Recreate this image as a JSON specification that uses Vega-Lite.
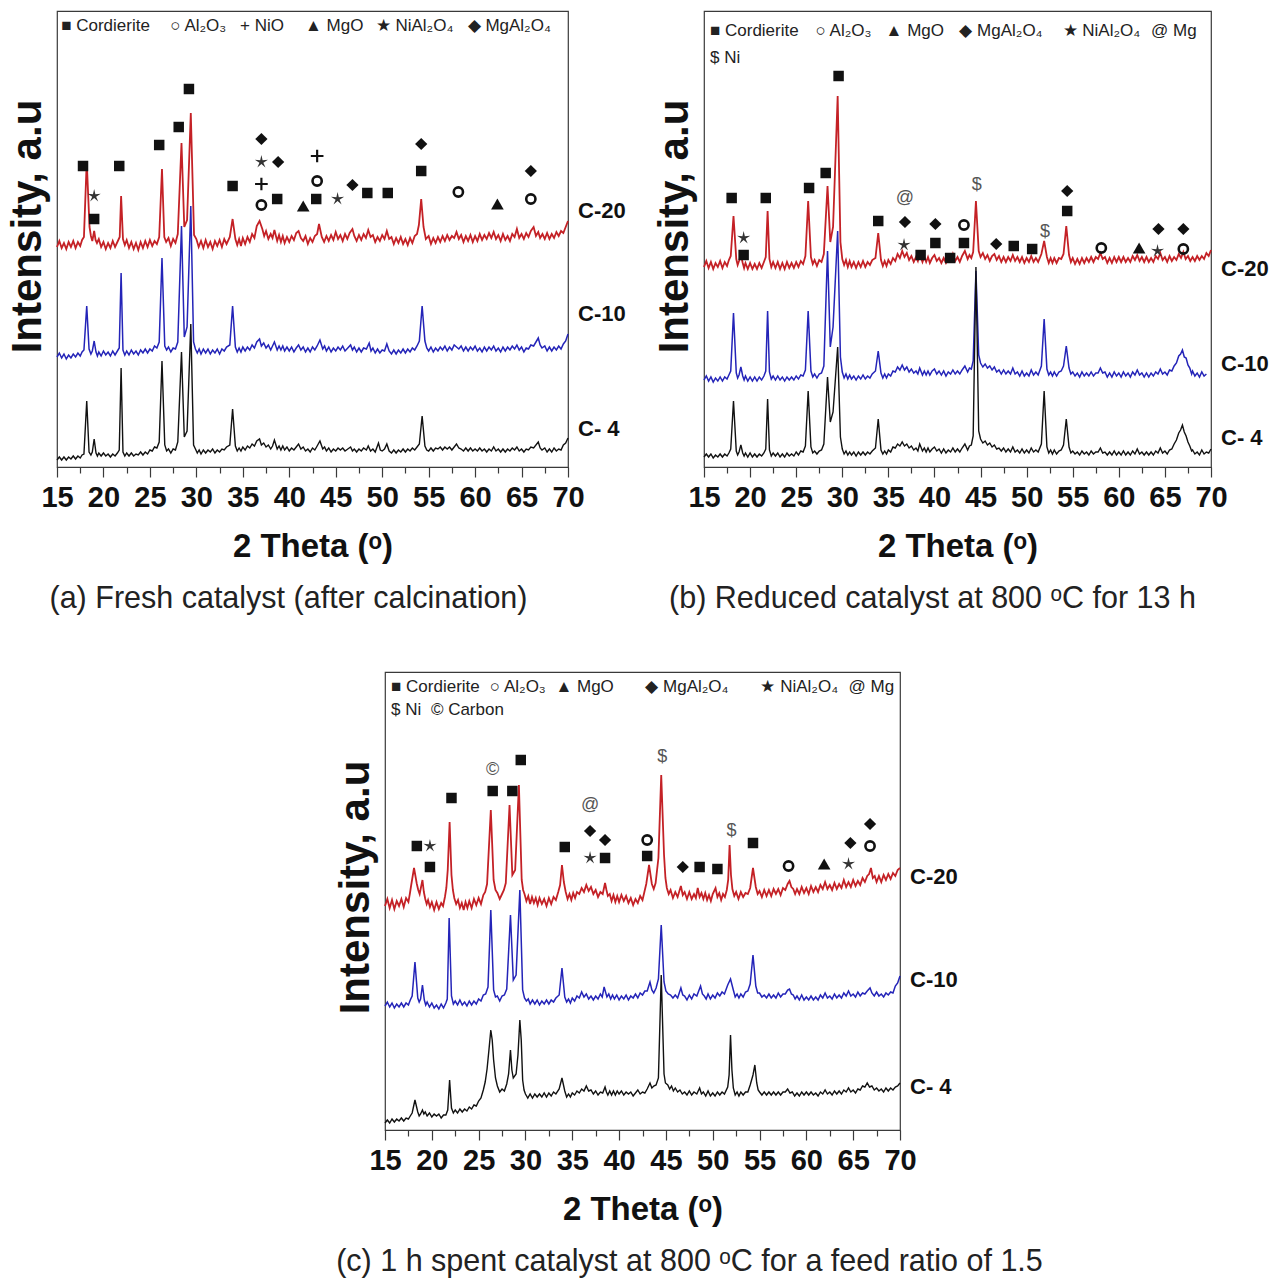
{
"$schema":"https://vega.github.io/schema/vega-lite/v6.json",
"background":"white",
"padding":{"left":5,"top":10,"right":4,"bottom":4},
"config":{
"view":{"stroke":"#3a3a3a","strokeWidth":1.2},
"font":"Liberation Sans",
"text":{"font":"Liberation Sans"},
"title":{"font":"Liberation Sans","fontSize":30.5,"fontWeight":"normal","color":"#222","orient":"bottom","offset":21,"frame":"group"},
"axisX":{"labelFlush":false,"labelOverlap":false,"grid":false,"domainColor":"#3a3a3a","tickColor":"#3a3a3a","tickWidth":1.2,"labelFont":"Liberation Sans","labelFontSize":29,"labelFontWeight":"bold","labelColor":"#111","labelPadding":6,"titleFont":"Liberation Sans","titleFontSize":33,"titleFontWeight":"bold","titleColor":"#111","titlePadding":18},
"axisY":{"ticks":false,"labels":false,"domain":false,"grid":false,"titleFont":"Liberation Sans","titleFontSize":42,"titleFontWeight":"bold","titleColor":"#111","titlePadding":8,"titleY":215}
},
"datasets":{
"a20":[{"x":15,"y":220},{"x":15.25,"y":226},{"x":15.5,"y":219},{"x":15.75,"y":224},{"x":16,"y":218},{"x":16.25,"y":225},{"x":16.5,"y":220},{"x":16.75,"y":226},{"x":17,"y":219},{"x":17.25,"y":225},{"x":17.5,"y":221},{"x":17.7,"y":227},{"x":17.9,"y":230},{"x":18.2,"y":306},{"x":18.5,"y":240},{"x":18.65,"y":231},{"x":18.8,"y":226},{"x":19,"y":236},{"x":19.15,"y":227},{"x":19.3,"y":224},{"x":19.5,"y":228},{"x":19.75,"y":220},{"x":20,"y":225},{"x":20.25,"y":218},{"x":20.5,"y":224},{"x":20.75,"y":219},{"x":21,"y":226},{"x":21.25,"y":220},{"x":21.5,"y":225},{"x":21.75,"y":230},{"x":21.9,"y":271},{"x":22.1,"y":228},{"x":22.3,"y":222},{"x":22.5,"y":227},{"x":22.75,"y":219},{"x":23,"y":225},{"x":23.25,"y":218},{"x":23.5,"y":224},{"x":23.75,"y":217},{"x":24,"y":225},{"x":24.25,"y":219},{"x":24.5,"y":226},{"x":24.75,"y":220},{"x":25,"y":227},{"x":25.25,"y":221},{"x":25.5,"y":226},{"x":25.75,"y":223},{"x":26,"y":230},{"x":26.3,"y":298},{"x":26.55,"y":230},{"x":26.75,"y":225},{"x":27,"y":229},{"x":27.25,"y":221},{"x":27.5,"y":228},{"x":27.75,"y":224},{"x":28,"y":233},{"x":28.4,"y":324},{"x":28.7,"y":240},{"x":29,"y":247},{"x":29.4,"y":354},{"x":29.75,"y":232},{"x":30,"y":228},{"x":30.25,"y":220},{"x":30.5,"y":226},{"x":30.75,"y":219},{"x":31,"y":227},{"x":31.25,"y":220},{"x":31.5,"y":225},{"x":31.75,"y":218},{"x":32,"y":226},{"x":32.25,"y":221},{"x":32.5,"y":227},{"x":32.75,"y":220},{"x":33,"y":228},{"x":33.25,"y":223},{"x":33.6,"y":230},{"x":33.9,"y":248},{"x":34.2,"y":228},{"x":34.4,"y":222},{"x":34.6,"y":228},{"x":34.8,"y":221},{"x":35,"y":229},{"x":35.25,"y":223},{"x":35.5,"y":230},{"x":35.75,"y":225},{"x":36,"y":233},{"x":36.25,"y":229},{"x":36.5,"y":241},{"x":36.8,"y":246},{"x":37.1,"y":238},{"x":37.3,"y":231},{"x":37.5,"y":236},{"x":37.75,"y":228},{"x":38,"y":233},{"x":38.2,"y":229},{"x":38.4,"y":237},{"x":38.7,"y":226},{"x":38.9,"y":232},{"x":39.1,"y":225},{"x":39.3,"y":231},{"x":39.5,"y":224},{"x":39.75,"y":230},{"x":40,"y":225},{"x":40.25,"y":231},{"x":40.5,"y":227},{"x":40.75,"y":234},{"x":41,"y":236},{"x":41.25,"y":229},{"x":41.5,"y":226},{"x":41.75,"y":231},{"x":42,"y":223},{"x":42.25,"y":229},{"x":42.5,"y":225},{"x":42.75,"y":231},{"x":43,"y":233},{"x":43.2,"y":243},{"x":43.5,"y":230},{"x":43.75,"y":225},{"x":44,"y":231},{"x":44.25,"y":226},{"x":44.5,"y":232},{"x":44.75,"y":227},{"x":45,"y":235},{"x":45.25,"y":228},{"x":45.5,"y":232},{"x":45.75,"y":226},{"x":46,"y":233},{"x":46.25,"y":228},{"x":46.5,"y":234},{"x":46.8,"y":238},{"x":47,"y":231},{"x":47.25,"y":226},{"x":47.5,"y":232},{"x":47.75,"y":227},{"x":48,"y":233},{"x":48.25,"y":229},{"x":48.5,"y":237},{"x":48.75,"y":230},{"x":49,"y":232},{"x":49.25,"y":225},{"x":49.5,"y":230},{"x":49.75,"y":226},{"x":50,"y":232},{"x":50.25,"y":228},{"x":50.5,"y":236},{"x":50.75,"y":228},{"x":51,"y":230},{"x":51.25,"y":223},{"x":51.5,"y":229},{"x":51.75,"y":224},{"x":52,"y":230},{"x":52.25,"y":223},{"x":52.5,"y":228},{"x":52.75,"y":222},{"x":53,"y":229},{"x":53.25,"y":224},{"x":53.5,"y":231},{"x":53.75,"y":233},{"x":53.95,"y":242},{"x":54.2,"y":268},{"x":54.45,"y":240},{"x":54.7,"y":228},{"x":55,"y":231},{"x":55.25,"y":223},{"x":55.5,"y":229},{"x":55.75,"y":224},{"x":56,"y":230},{"x":56.25,"y":225},{"x":56.5,"y":231},{"x":56.75,"y":226},{"x":57,"y":232},{"x":57.25,"y":227},{"x":57.5,"y":231},{"x":57.75,"y":229},{"x":58,"y":235},{"x":58.25,"y":228},{"x":58.5,"y":232},{"x":58.75,"y":225},{"x":59,"y":231},{"x":59.25,"y":226},{"x":59.5,"y":232},{"x":59.75,"y":225},{"x":60,"y":231},{"x":60.25,"y":226},{"x":60.5,"y":233},{"x":60.75,"y":227},{"x":61,"y":232},{"x":61.25,"y":228},{"x":61.5,"y":234},{"x":61.75,"y":229},{"x":62,"y":235},{"x":62.25,"y":228},{"x":62.5,"y":232},{"x":62.75,"y":226},{"x":63,"y":233},{"x":63.25,"y":227},{"x":63.5,"y":231},{"x":63.75,"y":226},{"x":64,"y":233},{"x":64.25,"y":230},{"x":64.5,"y":238},{"x":64.75,"y":229},{"x":65,"y":233},{"x":65.25,"y":228},{"x":65.5,"y":234},{"x":65.75,"y":230},{"x":66,"y":236},{"x":66.3,"y":240},{"x":66.55,"y":231},{"x":66.8,"y":235},{"x":67,"y":229},{"x":67.25,"y":233},{"x":67.5,"y":228},{"x":67.75,"y":234},{"x":68,"y":228},{"x":68.25,"y":233},{"x":68.5,"y":229},{"x":68.75,"y":235},{"x":69,"y":231},{"x":69.25,"y":236},{"x":69.5,"y":234},{"x":69.75,"y":240},{"x":70,"y":246}],
"a10":[{"x":15,"y":110},{"x":15.25,"y":114},{"x":15.5,"y":109},{"x":15.75,"y":113},{"x":16,"y":108},{"x":16.25,"y":112},{"x":16.5,"y":109},{"x":16.75,"y":113},{"x":17,"y":110},{"x":17.25,"y":114},{"x":17.5,"y":111},{"x":17.7,"y":115},{"x":17.9,"y":117},{"x":18.2,"y":161},{"x":18.45,"y":118},{"x":18.65,"y":113},{"x":18.8,"y":116},{"x":19,"y":126},{"x":19.2,"y":115},{"x":19.35,"y":111},{"x":19.5,"y":115},{"x":19.75,"y":111},{"x":20,"y":116},{"x":20.25,"y":112},{"x":20.5,"y":115},{"x":20.75,"y":111},{"x":21,"y":116},{"x":21.25,"y":112},{"x":21.5,"y":116},{"x":21.7,"y":119},{"x":21.9,"y":194},{"x":22.1,"y":117},{"x":22.3,"y":112},{"x":22.5,"y":116},{"x":22.75,"y":112},{"x":23,"y":117},{"x":23.25,"y":113},{"x":23.5,"y":116},{"x":23.75,"y":112},{"x":24,"y":117},{"x":24.25,"y":114},{"x":24.5,"y":118},{"x":24.75,"y":114},{"x":25,"y":118},{"x":25.25,"y":116},{"x":25.5,"y":121},{"x":25.75,"y":119},{"x":26,"y":125},{"x":26.3,"y":209},{"x":26.6,"y":121},{"x":26.8,"y":117},{"x":27,"y":120},{"x":27.25,"y":115},{"x":27.5,"y":119},{"x":27.75,"y":118},{"x":28,"y":125},{"x":28.4,"y":241},{"x":28.7,"y":130},{"x":29,"y":140},{"x":29.4,"y":261},{"x":29.7,"y":125},{"x":29.9,"y":118},{"x":30.1,"y":114},{"x":30.3,"y":118},{"x":30.5,"y":113},{"x":30.75,"y":118},{"x":31,"y":114},{"x":31.25,"y":118},{"x":31.5,"y":113},{"x":31.75,"y":117},{"x":32,"y":114},{"x":32.25,"y":118},{"x":32.5,"y":113},{"x":32.75,"y":118},{"x":33,"y":116},{"x":33.25,"y":120},{"x":33.6,"y":122},{"x":33.9,"y":161},{"x":34.2,"y":120},{"x":34.4,"y":115},{"x":34.6,"y":119},{"x":34.8,"y":115},{"x":35,"y":120},{"x":35.25,"y":116},{"x":35.5,"y":120},{"x":35.75,"y":117},{"x":36,"y":122},{"x":36.25,"y":119},{"x":36.5,"y":125},{"x":36.8,"y":128},{"x":37,"y":121},{"x":37.25,"y":124},{"x":37.5,"y":119},{"x":37.75,"y":122},{"x":38,"y":117},{"x":38.2,"y":121},{"x":38.4,"y":125},{"x":38.7,"y":117},{"x":38.9,"y":121},{"x":39.1,"y":117},{"x":39.3,"y":121},{"x":39.5,"y":116},{"x":39.75,"y":120},{"x":40,"y":116},{"x":40.25,"y":120},{"x":40.5,"y":115},{"x":40.75,"y":119},{"x":41,"y":122},{"x":41.25,"y":117},{"x":41.5,"y":120},{"x":41.75,"y":115},{"x":42,"y":119},{"x":42.25,"y":115},{"x":42.5,"y":120},{"x":42.75,"y":117},{"x":43,"y":121},{"x":43.3,"y":127},{"x":43.6,"y":118},{"x":43.8,"y":121},{"x":44,"y":116},{"x":44.25,"y":120},{"x":44.5,"y":115},{"x":44.75,"y":119},{"x":45,"y":116},{"x":45.25,"y":120},{"x":45.5,"y":117},{"x":45.75,"y":121},{"x":46,"y":116},{"x":46.3,"y":119},{"x":46.6,"y":122},{"x":46.8,"y":117},{"x":47,"y":120},{"x":47.25,"y":115},{"x":47.5,"y":119},{"x":47.75,"y":115},{"x":48,"y":119},{"x":48.3,"y":118},{"x":48.6,"y":124},{"x":48.8,"y":116},{"x":49,"y":119},{"x":49.25,"y":114},{"x":49.5,"y":118},{"x":49.75,"y":114},{"x":50,"y":117},{"x":50.25,"y":116},{"x":50.5,"y":123},{"x":50.75,"y":116},{"x":51,"y":113},{"x":51.25,"y":117},{"x":51.5,"y":113},{"x":51.75,"y":117},{"x":52,"y":114},{"x":52.25,"y":118},{"x":52.5,"y":114},{"x":52.75,"y":118},{"x":53,"y":115},{"x":53.25,"y":119},{"x":53.5,"y":117},{"x":53.75,"y":121},{"x":54,"y":126},{"x":54.3,"y":161},{"x":54.6,"y":126},{"x":54.8,"y":119},{"x":55,"y":116},{"x":55.25,"y":120},{"x":55.5,"y":115},{"x":55.75,"y":119},{"x":56,"y":116},{"x":56.25,"y":120},{"x":56.5,"y":117},{"x":56.75,"y":121},{"x":57,"y":116},{"x":57.25,"y":120},{"x":57.5,"y":117},{"x":57.75,"y":122},{"x":58,"y":120},{"x":58.25,"y":118},{"x":58.5,"y":121},{"x":58.75,"y":116},{"x":59,"y":120},{"x":59.25,"y":116},{"x":59.5,"y":120},{"x":59.75,"y":117},{"x":60,"y":121},{"x":60.25,"y":116},{"x":60.5,"y":119},{"x":60.75,"y":115},{"x":61,"y":120},{"x":61.25,"y":116},{"x":61.5,"y":120},{"x":61.75,"y":117},{"x":62,"y":121},{"x":62.25,"y":116},{"x":62.5,"y":119},{"x":62.75,"y":115},{"x":63,"y":120},{"x":63.25,"y":116},{"x":63.5,"y":120},{"x":63.75,"y":117},{"x":64,"y":121},{"x":64.25,"y":118},{"x":64.5,"y":122},{"x":64.75,"y":117},{"x":65,"y":120},{"x":65.25,"y":115},{"x":65.5,"y":119},{"x":65.75,"y":118},{"x":66,"y":122},{"x":66.3,"y":121},{"x":66.8,"y":129},{"x":67,"y":122},{"x":67.2,"y":119},{"x":67.5,"y":121},{"x":67.75,"y":116},{"x":68,"y":120},{"x":68.25,"y":116},{"x":68.5,"y":120},{"x":68.75,"y":117},{"x":69,"y":121},{"x":69.25,"y":118},{"x":69.5,"y":123},{"x":69.75,"y":126},{"x":70,"y":133}],
"a4":[{"x":15,"y":7},{"x":15.25,"y":10},{"x":15.5,"y":7},{"x":15.75,"y":10},{"x":16,"y":7},{"x":16.25,"y":10},{"x":16.5,"y":8},{"x":16.75,"y":11},{"x":17,"y":8},{"x":17.25,"y":11},{"x":17.5,"y":9},{"x":17.7,"y":12},{"x":17.9,"y":13},{"x":18.2,"y":66},{"x":18.45,"y":15},{"x":18.65,"y":12},{"x":18.8,"y":15},{"x":19,"y":28},{"x":19.2,"y":14},{"x":19.35,"y":11},{"x":19.5,"y":14},{"x":19.75,"y":11},{"x":20,"y":14},{"x":20.25,"y":11},{"x":20.5,"y":13},{"x":20.75,"y":10},{"x":21,"y":13},{"x":21.25,"y":11},{"x":21.5,"y":14},{"x":21.7,"y":17},{"x":21.9,"y":99},{"x":22.1,"y":15},{"x":22.3,"y":11},{"x":22.5,"y":14},{"x":22.75,"y":11},{"x":23,"y":14},{"x":23.25,"y":11},{"x":23.5,"y":13},{"x":23.75,"y":12},{"x":24,"y":15},{"x":24.25,"y":12},{"x":24.5,"y":15},{"x":24.75,"y":13},{"x":25,"y":17},{"x":25.25,"y":16},{"x":25.5,"y":20},{"x":25.75,"y":19},{"x":26,"y":25},{"x":26.3,"y":106},{"x":26.6,"y":22},{"x":26.8,"y":16},{"x":27,"y":18},{"x":27.25,"y":14},{"x":27.5,"y":18},{"x":27.75,"y":17},{"x":28,"y":25},{"x":28.4,"y":115},{"x":28.7,"y":30},{"x":29,"y":36},{"x":29.4,"y":143},{"x":29.7,"y":22},{"x":29.9,"y":18},{"x":30.1,"y":14},{"x":30.3,"y":17},{"x":30.5,"y":13},{"x":30.75,"y":17},{"x":31,"y":14},{"x":31.25,"y":17},{"x":31.5,"y":15},{"x":31.75,"y":18},{"x":32,"y":14},{"x":32.25,"y":17},{"x":32.5,"y":15},{"x":32.75,"y":18},{"x":33,"y":17},{"x":33.25,"y":20},{"x":33.6,"y":22},{"x":33.9,"y":58},{"x":34.2,"y":21},{"x":34.4,"y":16},{"x":34.6,"y":19},{"x":34.8,"y":16},{"x":35,"y":20},{"x":35.25,"y":17},{"x":35.5,"y":21},{"x":35.75,"y":19},{"x":36,"y":23},{"x":36.25,"y":21},{"x":36.5,"y":26},{"x":36.8,"y":28},{"x":37,"y":22},{"x":37.25,"y":24},{"x":37.5,"y":20},{"x":37.75,"y":22},{"x":38,"y":18},{"x":38.2,"y":21},{"x":38.4,"y":27},{"x":38.7,"y":18},{"x":38.9,"y":21},{"x":39.1,"y":17},{"x":39.3,"y":21},{"x":39.5,"y":17},{"x":39.75,"y":20},{"x":40,"y":16},{"x":40.25,"y":19},{"x":40.5,"y":17},{"x":40.75,"y":20},{"x":41,"y":23},{"x":41.25,"y":18},{"x":41.5,"y":20},{"x":41.75,"y":16},{"x":42,"y":18},{"x":42.25,"y":15},{"x":42.5,"y":19},{"x":42.75,"y":17},{"x":43,"y":21},{"x":43.3,"y":26},{"x":43.6,"y":18},{"x":43.8,"y":20},{"x":44,"y":16},{"x":44.25,"y":19},{"x":44.5,"y":15},{"x":44.75,"y":18},{"x":45,"y":16},{"x":45.25,"y":19},{"x":45.5,"y":17},{"x":45.75,"y":19},{"x":46,"y":16},{"x":46.3,"y":18},{"x":46.6,"y":20},{"x":46.8,"y":16},{"x":47,"y":18},{"x":47.25,"y":15},{"x":47.5,"y":18},{"x":47.75,"y":16},{"x":48,"y":19},{"x":48.3,"y":17},{"x":48.5,"y":21},{"x":48.75,"y":16},{"x":49,"y":18},{"x":49.25,"y":15},{"x":49.6,"y":24},{"x":49.8,"y":17},{"x":50,"y":16},{"x":50.25,"y":18},{"x":50.5,"y":23},{"x":50.75,"y":16},{"x":51,"y":14},{"x":51.25,"y":17},{"x":51.5,"y":14},{"x":51.75,"y":17},{"x":52,"y":15},{"x":52.25,"y":18},{"x":52.5,"y":15},{"x":52.75,"y":18},{"x":53,"y":16},{"x":53.25,"y":19},{"x":53.5,"y":17},{"x":53.75,"y":20},{"x":54,"y":23},{"x":54.3,"y":51},{"x":54.6,"y":21},{"x":54.8,"y":17},{"x":55,"y":16},{"x":55.25,"y":19},{"x":55.5,"y":16},{"x":55.75,"y":19},{"x":56,"y":18},{"x":56.25,"y":20},{"x":56.5,"y":17},{"x":56.75,"y":20},{"x":57,"y":18},{"x":57.25,"y":20},{"x":57.5,"y":17},{"x":57.75,"y":20},{"x":58,"y":23},{"x":58.25,"y":19},{"x":58.5,"y":18},{"x":58.75,"y":16},{"x":59,"y":19},{"x":59.25,"y":16},{"x":59.5,"y":19},{"x":59.75,"y":16},{"x":60,"y":18},{"x":60.25,"y":16},{"x":60.5,"y":19},{"x":60.75,"y":16},{"x":61,"y":18},{"x":61.25,"y":15},{"x":61.5,"y":18},{"x":61.75,"y":16},{"x":62,"y":20},{"x":62.25,"y":16},{"x":62.5,"y":18},{"x":62.75,"y":15},{"x":63,"y":18},{"x":63.25,"y":15},{"x":63.5,"y":18},{"x":63.75,"y":16},{"x":64,"y":19},{"x":64.25,"y":17},{"x":64.5,"y":20},{"x":64.75,"y":16},{"x":65,"y":18},{"x":65.25,"y":15},{"x":65.5,"y":18},{"x":65.75,"y":17},{"x":66,"y":20},{"x":66.3,"y":19},{"x":66.8,"y":25},{"x":67,"y":19},{"x":67.2,"y":17},{"x":67.5,"y":19},{"x":67.75,"y":15},{"x":68,"y":18},{"x":68.25,"y":15},{"x":68.5,"y":19},{"x":68.75,"y":16},{"x":69,"y":18},{"x":69.25,"y":17},{"x":69.5,"y":22},{"x":69.75,"y":24},{"x":70,"y":29}],
"b20":[{"x":15,"y":200},{"x":15.25,"y":206},{"x":15.5,"y":199},{"x":15.75,"y":205},{"x":16,"y":198},{"x":16.25,"y":204},{"x":16.5,"y":200},{"x":16.75,"y":206},{"x":17,"y":199},{"x":17.25,"y":205},{"x":17.5,"y":201},{"x":17.7,"y":207},{"x":17.9,"y":211},{"x":18.2,"y":251},{"x":18.5,"y":208},{"x":18.65,"y":202},{"x":18.8,"y":206},{"x":19,"y":212},{"x":19.2,"y":204},{"x":19.35,"y":199},{"x":19.5,"y":204},{"x":19.75,"y":198},{"x":20,"y":204},{"x":20.25,"y":198},{"x":20.5,"y":203},{"x":20.75,"y":198},{"x":21,"y":204},{"x":21.25,"y":199},{"x":21.5,"y":205},{"x":21.7,"y":210},{"x":21.9,"y":256},{"x":22.1,"y":208},{"x":22.3,"y":200},{"x":22.5,"y":205},{"x":22.75,"y":199},{"x":23,"y":205},{"x":23.25,"y":198},{"x":23.5,"y":204},{"x":23.75,"y":198},{"x":24,"y":205},{"x":24.25,"y":199},{"x":24.5,"y":204},{"x":24.75,"y":199},{"x":25,"y":205},{"x":25.25,"y":200},{"x":25.5,"y":206},{"x":25.75,"y":203},{"x":26,"y":211},{"x":26.3,"y":266},{"x":26.6,"y":210},{"x":26.8,"y":203},{"x":27,"y":207},{"x":27.25,"y":201},{"x":27.5,"y":207},{"x":27.75,"y":205},{"x":28,"y":213},{"x":28.4,"y":281},{"x":28.7,"y":225},{"x":29,"y":240},{"x":29.5,"y":371},{"x":29.8,"y":225},{"x":30,"y":208},{"x":30.2,"y":202},{"x":30.4,"y":207},{"x":30.6,"y":200},{"x":30.8,"y":206},{"x":31,"y":200},{"x":31.25,"y":205},{"x":31.5,"y":199},{"x":31.75,"y":205},{"x":32,"y":200},{"x":32.25,"y":206},{"x":32.5,"y":200},{"x":32.75,"y":205},{"x":33,"y":202},{"x":33.25,"y":207},{"x":33.6,"y":209},{"x":33.9,"y":234},{"x":34.2,"y":207},{"x":34.4,"y":201},{"x":34.6,"y":206},{"x":34.8,"y":201},{"x":35,"y":207},{"x":35.25,"y":203},{"x":35.5,"y":209},{"x":35.75,"y":206},{"x":36,"y":213},{"x":36.25,"y":209},{"x":36.5,"y":216},{"x":36.75,"y":210},{"x":37,"y":214},{"x":37.25,"y":207},{"x":37.5,"y":211},{"x":37.75,"y":205},{"x":38,"y":210},{"x":38.2,"y":206},{"x":38.4,"y":213},{"x":38.7,"y":205},{"x":38.9,"y":210},{"x":39.1,"y":205},{"x":39.3,"y":210},{"x":39.5,"y":204},{"x":39.75,"y":209},{"x":40,"y":212},{"x":40.25,"y":206},{"x":40.5,"y":209},{"x":40.75,"y":204},{"x":41,"y":209},{"x":41.25,"y":204},{"x":41.5,"y":208},{"x":41.75,"y":206},{"x":42,"y":213},{"x":42.25,"y":206},{"x":42.5,"y":210},{"x":42.75,"y":205},{"x":43,"y":211},{"x":43.3,"y":216},{"x":43.6,"y":208},{"x":43.8,"y":212},{"x":44,"y":209},{"x":44.2,"y":215},{"x":44.5,"y":266},{"x":44.8,"y":216},{"x":45,"y":210},{"x":45.25,"y":214},{"x":45.5,"y":208},{"x":45.75,"y":212},{"x":46,"y":206},{"x":46.25,"y":211},{"x":46.5,"y":213},{"x":46.75,"y":207},{"x":47,"y":211},{"x":47.25,"y":205},{"x":47.5,"y":210},{"x":47.75,"y":205},{"x":48,"y":210},{"x":48.25,"y":206},{"x":48.5,"y":212},{"x":48.75,"y":206},{"x":49,"y":210},{"x":49.25,"y":205},{"x":49.5,"y":210},{"x":49.75,"y":204},{"x":50,"y":209},{"x":50.25,"y":205},{"x":50.5,"y":211},{"x":50.75,"y":205},{"x":51,"y":209},{"x":51.25,"y":205},{"x":51.6,"y":213},{"x":51.9,"y":226},{"x":52.2,"y":210},{"x":52.4,"y":204},{"x":52.6,"y":209},{"x":52.8,"y":204},{"x":53,"y":209},{"x":53.25,"y":204},{"x":53.5,"y":209},{"x":53.75,"y":208},{"x":54,"y":213},{"x":54.3,"y":241},{"x":54.6,"y":212},{"x":54.8,"y":205},{"x":55,"y":209},{"x":55.25,"y":203},{"x":55.5,"y":208},{"x":55.75,"y":203},{"x":56,"y":209},{"x":56.25,"y":204},{"x":56.5,"y":209},{"x":56.75,"y":205},{"x":57,"y":210},{"x":57.25,"y":205},{"x":57.5,"y":210},{"x":57.75,"y":208},{"x":58,"y":214},{"x":58.25,"y":208},{"x":58.5,"y":210},{"x":58.75,"y":204},{"x":59,"y":209},{"x":59.25,"y":204},{"x":59.5,"y":210},{"x":59.75,"y":205},{"x":60,"y":210},{"x":60.25,"y":205},{"x":60.5,"y":210},{"x":60.75,"y":205},{"x":61,"y":209},{"x":61.25,"y":205},{"x":61.5,"y":211},{"x":61.75,"y":207},{"x":62,"y":212},{"x":62.25,"y":206},{"x":62.5,"y":210},{"x":62.75,"y":205},{"x":63,"y":210},{"x":63.25,"y":205},{"x":63.5,"y":209},{"x":63.75,"y":205},{"x":64,"y":211},{"x":64.25,"y":208},{"x":64.5,"y":214},{"x":64.75,"y":207},{"x":65,"y":210},{"x":65.25,"y":205},{"x":65.5,"y":211},{"x":65.75,"y":206},{"x":66,"y":210},{"x":66.25,"y":207},{"x":66.5,"y":213},{"x":66.75,"y":209},{"x":67,"y":215},{"x":67.25,"y":208},{"x":67.5,"y":211},{"x":67.75,"y":206},{"x":68,"y":210},{"x":68.25,"y":206},{"x":68.5,"y":211},{"x":68.75,"y":207},{"x":69,"y":211},{"x":69.25,"y":208},{"x":69.5,"y":214},{"x":69.75,"y":211},{"x":70,"y":217}],
"b10":[{"x":15,"y":87},{"x":15.25,"y":91},{"x":15.5,"y":86},{"x":15.75,"y":90},{"x":16,"y":85},{"x":16.25,"y":89},{"x":16.5,"y":86},{"x":16.75,"y":90},{"x":17,"y":86},{"x":17.25,"y":90},{"x":17.5,"y":88},{"x":17.7,"y":92},{"x":17.9,"y":96},{"x":18.2,"y":154},{"x":18.5,"y":94},{"x":18.65,"y":89},{"x":18.8,"y":92},{"x":19,"y":100},{"x":19.2,"y":91},{"x":19.35,"y":87},{"x":19.5,"y":91},{"x":19.75,"y":86},{"x":20,"y":90},{"x":20.25,"y":86},{"x":20.5,"y":90},{"x":20.75,"y":86},{"x":21,"y":90},{"x":21.25,"y":87},{"x":21.5,"y":91},{"x":21.7,"y":96},{"x":21.9,"y":156},{"x":22.1,"y":95},{"x":22.3,"y":88},{"x":22.5,"y":91},{"x":22.75,"y":87},{"x":23,"y":91},{"x":23.25,"y":87},{"x":23.5,"y":90},{"x":23.75,"y":86},{"x":24,"y":90},{"x":24.25,"y":87},{"x":24.5,"y":90},{"x":24.75,"y":87},{"x":25,"y":91},{"x":25.25,"y":88},{"x":25.5,"y":92},{"x":25.75,"y":91},{"x":26,"y":97},{"x":26.3,"y":156},{"x":26.6,"y":96},{"x":26.8,"y":90},{"x":27,"y":93},{"x":27.25,"y":89},{"x":27.5,"y":93},{"x":27.75,"y":94},{"x":28,"y":101},{"x":28.4,"y":216},{"x":28.7,"y":120},{"x":29,"y":140},{"x":29.5,"y":236},{"x":29.8,"y":110},{"x":30,"y":95},{"x":30.2,"y":89},{"x":30.4,"y":93},{"x":30.6,"y":88},{"x":30.8,"y":92},{"x":31,"y":88},{"x":31.25,"y":91},{"x":31.5,"y":87},{"x":31.75,"y":91},{"x":32,"y":88},{"x":32.25,"y":92},{"x":32.5,"y":88},{"x":32.75,"y":91},{"x":33,"y":89},{"x":33.25,"y":93},{"x":33.6,"y":96},{"x":33.9,"y":116},{"x":34.2,"y":94},{"x":34.4,"y":89},{"x":34.6,"y":93},{"x":34.8,"y":89},{"x":35,"y":93},{"x":35.25,"y":91},{"x":35.5,"y":96},{"x":35.75,"y":95},{"x":36,"y":100},{"x":36.25,"y":97},{"x":36.5,"y":102},{"x":36.75,"y":97},{"x":37,"y":100},{"x":37.25,"y":95},{"x":37.5,"y":98},{"x":37.75,"y":94},{"x":38,"y":96},{"x":38.2,"y":93},{"x":38.4,"y":99},{"x":38.7,"y":92},{"x":38.9,"y":96},{"x":39.1,"y":92},{"x":39.3,"y":96},{"x":39.5,"y":92},{"x":39.75,"y":96},{"x":40,"y":98},{"x":40.25,"y":93},{"x":40.5,"y":96},{"x":40.75,"y":92},{"x":41,"y":96},{"x":41.25,"y":91},{"x":41.5,"y":95},{"x":41.75,"y":93},{"x":42,"y":97},{"x":42.25,"y":93},{"x":42.5,"y":96},{"x":42.75,"y":93},{"x":43,"y":97},{"x":43.3,"y":101},{"x":43.6,"y":95},{"x":43.8,"y":99},{"x":44,"y":98},{"x":44.2,"y":106},{"x":44.5,"y":196},{"x":44.8,"y":112},{"x":45,"y":104},{"x":45.25,"y":100},{"x":45.5,"y":103},{"x":45.75,"y":99},{"x":46,"y":101},{"x":46.25,"y":97},{"x":46.5,"y":100},{"x":46.75,"y":95},{"x":47,"y":97},{"x":47.25,"y":93},{"x":47.5,"y":97},{"x":47.75,"y":93},{"x":48,"y":96},{"x":48.25,"y":93},{"x":48.5,"y":99},{"x":48.75,"y":93},{"x":49,"y":95},{"x":49.25,"y":91},{"x":49.5,"y":96},{"x":49.75,"y":91},{"x":50,"y":94},{"x":50.25,"y":91},{"x":50.5,"y":97},{"x":50.75,"y":92},{"x":51,"y":95},{"x":51.25,"y":92},{"x":51.6,"y":101},{"x":51.9,"y":148},{"x":52.2,"y":98},{"x":52.4,"y":92},{"x":52.6,"y":95},{"x":52.8,"y":91},{"x":53,"y":95},{"x":53.25,"y":91},{"x":53.5,"y":95},{"x":53.75,"y":96},{"x":54,"y":101},{"x":54.3,"y":121},{"x":54.6,"y":99},{"x":54.8,"y":93},{"x":55,"y":95},{"x":55.25,"y":91},{"x":55.5,"y":94},{"x":55.75,"y":90},{"x":56,"y":95},{"x":56.25,"y":91},{"x":56.5,"y":94},{"x":56.75,"y":91},{"x":57,"y":95},{"x":57.25,"y":91},{"x":57.5,"y":94},{"x":57.75,"y":94},{"x":58,"y":99},{"x":58.25,"y":94},{"x":58.5,"y":95},{"x":58.75,"y":90},{"x":59,"y":94},{"x":59.25,"y":90},{"x":59.5,"y":95},{"x":59.75,"y":91},{"x":60,"y":94},{"x":60.25,"y":90},{"x":60.5,"y":95},{"x":60.75,"y":91},{"x":61,"y":94},{"x":61.25,"y":90},{"x":61.5,"y":95},{"x":61.75,"y":92},{"x":62,"y":97},{"x":62.25,"y":92},{"x":62.5,"y":94},{"x":62.75,"y":90},{"x":63,"y":94},{"x":63.25,"y":90},{"x":63.5,"y":94},{"x":63.75,"y":91},{"x":64,"y":95},{"x":64.25,"y":93},{"x":64.5,"y":98},{"x":64.75,"y":93},{"x":65,"y":95},{"x":65.25,"y":92},{"x":65.5,"y":97},{"x":65.75,"y":96},{"x":66,"y":101},{"x":66.25,"y":104},{"x":66.5,"y":111},{"x":66.7,"y":113},{"x":66.9,"y":117},{"x":67.1,"y":110},{"x":67.3,"y":109},{"x":67.5,"y":102},{"x":67.7,"y":99},{"x":67.9,"y":93},{"x":68,"y":96},{"x":68.25,"y":91},{"x":68.5,"y":94},{"x":68.75,"y":90},{"x":69,"y":95},{"x":69.25,"y":91},{"x":69.5,"y":93}],
"b4":[{"x":15,"y":10},{"x":15.25,"y":13},{"x":15.5,"y":10},{"x":15.75,"y":13},{"x":16,"y":9},{"x":16.25,"y":12},{"x":16.5,"y":10},{"x":16.75,"y":13},{"x":17,"y":10},{"x":17.25,"y":13},{"x":17.5,"y":11},{"x":17.7,"y":14},{"x":17.9,"y":18},{"x":18.2,"y":66},{"x":18.5,"y":16},{"x":18.65,"y":12},{"x":18.8,"y":15},{"x":19,"y":22},{"x":19.2,"y":14},{"x":19.35,"y":11},{"x":19.5,"y":14},{"x":19.75,"y":10},{"x":20,"y":14},{"x":20.25,"y":10},{"x":20.5,"y":13},{"x":20.75,"y":10},{"x":21,"y":13},{"x":21.25,"y":11},{"x":21.5,"y":14},{"x":21.7,"y":18},{"x":21.9,"y":68},{"x":22.1,"y":17},{"x":22.3,"y":11},{"x":22.5,"y":14},{"x":22.75,"y":11},{"x":23,"y":14},{"x":23.25,"y":10},{"x":23.5,"y":13},{"x":23.75,"y":10},{"x":24,"y":14},{"x":24.25,"y":11},{"x":24.5,"y":13},{"x":24.75,"y":11},{"x":25,"y":15},{"x":25.25,"y":12},{"x":25.5,"y":16},{"x":25.75,"y":15},{"x":26,"y":21},{"x":26.3,"y":76},{"x":26.6,"y":20},{"x":26.8,"y":14},{"x":27,"y":16},{"x":27.25,"y":13},{"x":27.5,"y":16},{"x":27.75,"y":17},{"x":28,"y":23},{"x":28.4,"y":90},{"x":28.7,"y":45},{"x":29,"y":55},{"x":29.5,"y":120},{"x":29.8,"y":30},{"x":30,"y":18},{"x":30.2,"y":13},{"x":30.4,"y":16},{"x":30.6,"y":12},{"x":30.8,"y":15},{"x":31,"y":12},{"x":31.25,"y":15},{"x":31.5,"y":11},{"x":31.75,"y":15},{"x":32,"y":12},{"x":32.25,"y":15},{"x":32.5,"y":12},{"x":32.75,"y":15},{"x":33,"y":13},{"x":33.25,"y":16},{"x":33.6,"y":19},{"x":33.9,"y":48},{"x":34.2,"y":17},{"x":34.4,"y":13},{"x":34.6,"y":16},{"x":34.8,"y":13},{"x":35,"y":17},{"x":35.25,"y":15},{"x":35.5,"y":20},{"x":35.75,"y":19},{"x":36,"y":23},{"x":36.25,"y":21},{"x":36.5,"y":25},{"x":36.75,"y":21},{"x":37,"y":23},{"x":37.25,"y":19},{"x":37.5,"y":21},{"x":37.75,"y":17},{"x":38,"y":19},{"x":38.2,"y":16},{"x":38.4,"y":23},{"x":38.7,"y":16},{"x":38.9,"y":19},{"x":39.1,"y":15},{"x":39.3,"y":19},{"x":39.5,"y":15},{"x":39.75,"y":18},{"x":40,"y":20},{"x":40.25,"y":16},{"x":40.5,"y":18},{"x":40.75,"y":14},{"x":41,"y":18},{"x":41.25,"y":14},{"x":41.5,"y":17},{"x":41.75,"y":15},{"x":42,"y":19},{"x":42.25,"y":15},{"x":42.5,"y":18},{"x":42.75,"y":15},{"x":43,"y":19},{"x":43.3,"y":23},{"x":43.6,"y":17},{"x":43.8,"y":21},{"x":44,"y":22},{"x":44.2,"y":31},{"x":44.5,"y":200},{"x":44.8,"y":36},{"x":45,"y":28},{"x":45.25,"y":24},{"x":45.5,"y":26},{"x":45.75,"y":22},{"x":46,"y":24},{"x":46.25,"y":20},{"x":46.5,"y":22},{"x":46.75,"y":18},{"x":47,"y":19},{"x":47.25,"y":16},{"x":47.5,"y":19},{"x":47.75,"y":15},{"x":48,"y":18},{"x":48.25,"y":15},{"x":48.5,"y":20},{"x":48.75,"y":15},{"x":49,"y":17},{"x":49.25,"y":14},{"x":49.5,"y":18},{"x":49.75,"y":14},{"x":50,"y":17},{"x":50.25,"y":14},{"x":50.5,"y":19},{"x":50.75,"y":15},{"x":51,"y":17},{"x":51.25,"y":15},{"x":51.6,"y":23},{"x":51.9,"y":76},{"x":52.2,"y":20},{"x":52.4,"y":14},{"x":52.6,"y":17},{"x":52.8,"y":13},{"x":53,"y":17},{"x":53.25,"y":13},{"x":53.5,"y":16},{"x":53.75,"y":17},{"x":54,"y":22},{"x":54.3,"y":48},{"x":54.6,"y":20},{"x":54.8,"y":14},{"x":55,"y":16},{"x":55.25,"y":13},{"x":55.5,"y":15},{"x":55.75,"y":12},{"x":56,"y":16},{"x":56.25,"y":13},{"x":56.5,"y":15},{"x":56.75,"y":12},{"x":57,"y":16},{"x":57.25,"y":13},{"x":57.5,"y":15},{"x":57.75,"y":15},{"x":58,"y":19},{"x":58.25,"y":14},{"x":58.5,"y":15},{"x":58.75,"y":12},{"x":59,"y":15},{"x":59.25,"y":12},{"x":59.5,"y":16},{"x":59.75,"y":12},{"x":60,"y":15},{"x":60.25,"y":12},{"x":60.5,"y":16},{"x":60.75,"y":12},{"x":61,"y":15},{"x":61.25,"y":12},{"x":61.5,"y":16},{"x":61.75,"y":13},{"x":62,"y":18},{"x":62.25,"y":13},{"x":62.5,"y":15},{"x":62.75,"y":12},{"x":63,"y":15},{"x":63.25,"y":12},{"x":63.5,"y":15},{"x":63.75,"y":12},{"x":64,"y":16},{"x":64.25,"y":14},{"x":64.5,"y":19},{"x":64.75,"y":14},{"x":65,"y":16},{"x":65.25,"y":13},{"x":65.5,"y":17},{"x":65.75,"y":18},{"x":66,"y":23},{"x":66.25,"y":27},{"x":66.5,"y":34},{"x":66.7,"y":37},{"x":66.9,"y":42},{"x":67.1,"y":35},{"x":67.3,"y":31},{"x":67.5,"y":25},{"x":67.7,"y":21},{"x":67.9,"y":16},{"x":68,"y":17},{"x":68.25,"y":13},{"x":68.5,"y":15},{"x":68.75,"y":12},{"x":69,"y":17},{"x":69.25,"y":13},{"x":69.5,"y":15},{"x":69.75,"y":14},{"x":70,"y":18}],
"c20":[{"x":15,"y":224},{"x":15.25,"y":231},{"x":15.5,"y":222},{"x":15.75,"y":230},{"x":16,"y":221},{"x":16.25,"y":229},{"x":16.5,"y":224},{"x":16.75,"y":231},{"x":17,"y":223},{"x":17.25,"y":232},{"x":17.5,"y":228},{"x":17.65,"y":236},{"x":17.8,"y":245},{"x":18.1,"y":262},{"x":18.4,"y":246},{"x":18.55,"y":240},{"x":18.7,"y":236},{"x":19,"y":250},{"x":19.15,"y":238},{"x":19.3,"y":231},{"x":19.45,"y":226},{"x":19.6,"y":230},{"x":19.8,"y":223},{"x":20,"y":228},{"x":20.25,"y":220},{"x":20.5,"y":228},{"x":20.75,"y":221},{"x":21,"y":227},{"x":21.2,"y":224},{"x":21.4,"y":233},{"x":21.55,"y":242},{"x":21.7,"y":260},{"x":21.9,"y":308},{"x":22.1,"y":255},{"x":22.25,"y":240},{"x":22.4,"y":232},{"x":22.6,"y":226},{"x":22.8,"y":230},{"x":23,"y":222},{"x":23.2,"y":227},{"x":23.4,"y":220},{"x":23.6,"y":228},{"x":23.8,"y":222},{"x":24,"y":229},{"x":24.25,"y":222},{"x":24.5,"y":231},{"x":24.75,"y":225},{"x":25,"y":232},{"x":25.25,"y":226},{"x":25.5,"y":235},{"x":25.7,"y":238},{"x":25.9,"y":246},{"x":26.3,"y":320},{"x":26.6,"y":250},{"x":26.8,"y":240},{"x":27,"y":237},{"x":27.25,"y":231},{"x":27.5,"y":236},{"x":27.7,"y":240},{"x":27.9,"y":247},{"x":28.3,"y":325},{"x":28.6,"y":255},{"x":28.9,"y":260},{"x":29.3,"y":345},{"x":29.6,"y":250},{"x":29.75,"y":240},{"x":29.9,"y":236},{"x":30.1,"y":229},{"x":30.3,"y":234},{"x":30.5,"y":226},{"x":30.7,"y":233},{"x":30.9,"y":227},{"x":31.1,"y":232},{"x":31.3,"y":225},{"x":31.5,"y":232},{"x":31.75,"y":226},{"x":32,"y":231},{"x":32.25,"y":224},{"x":32.5,"y":232},{"x":32.75,"y":226},{"x":33,"y":233},{"x":33.25,"y":230},{"x":33.5,"y":238},{"x":33.7,"y":245},{"x":33.9,"y":265},{"x":34.1,"y":248},{"x":34.3,"y":238},{"x":34.5,"y":231},{"x":34.7,"y":236},{"x":34.9,"y":230},{"x":35.1,"y":237},{"x":35.3,"y":232},{"x":35.5,"y":238},{"x":35.75,"y":236},{"x":36,"y":242},{"x":36.25,"y":238},{"x":36.5,"y":245},{"x":36.75,"y":239},{"x":37,"y":243},{"x":37.25,"y":236},{"x":37.5,"y":240},{"x":37.75,"y":233},{"x":38,"y":238},{"x":38.25,"y":236},{"x":38.5,"y":247},{"x":38.65,"y":240},{"x":38.8,"y":234},{"x":39,"y":236},{"x":39.2,"y":229},{"x":39.4,"y":235},{"x":39.6,"y":228},{"x":39.8,"y":234},{"x":40,"y":228},{"x":40.25,"y":235},{"x":40.5,"y":229},{"x":40.75,"y":234},{"x":41,"y":227},{"x":41.25,"y":232},{"x":41.5,"y":225},{"x":41.75,"y":231},{"x":42,"y":227},{"x":42.25,"y":234},{"x":42.5,"y":230},{"x":42.7,"y":238},{"x":42.9,"y":246},{"x":43.2,"y":265},{"x":43.5,"y":246},{"x":43.7,"y":241},{"x":43.9,"y":247},{"x":44.2,"y":272},{"x":44.5,"y":355},{"x":44.8,"y":275},{"x":44.95,"y":252},{"x":45.1,"y":242},{"x":45.3,"y":236},{"x":45.5,"y":240},{"x":45.75,"y":232},{"x":46,"y":238},{"x":46.25,"y":233},{"x":46.6,"y":244},{"x":46.8,"y":235},{"x":47,"y":238},{"x":47.25,"y":231},{"x":47.5,"y":238},{"x":47.75,"y":231},{"x":48,"y":236},{"x":48.2,"y":232},{"x":48.4,"y":242},{"x":48.6,"y":233},{"x":48.8,"y":237},{"x":49,"y":231},{"x":49.2,"y":237},{"x":49.4,"y":230},{"x":49.6,"y":235},{"x":49.8,"y":229},{"x":50,"y":236},{"x":50.3,"y":242},{"x":50.5,"y":233},{"x":50.7,"y":237},{"x":50.9,"y":230},{"x":51.1,"y":236},{"x":51.3,"y":233},{"x":51.5,"y":240},{"x":51.65,"y":250},{"x":51.8,"y":285},{"x":51.95,"y":255},{"x":52.1,"y":241},{"x":52.3,"y":234},{"x":52.5,"y":238},{"x":52.75,"y":231},{"x":53,"y":238},{"x":53.25,"y":233},{"x":53.5,"y":237},{"x":53.75,"y":236},{"x":54,"y":242},{"x":54.3,"y":262},{"x":54.6,"y":243},{"x":54.8,"y":236},{"x":55,"y":239},{"x":55.25,"y":233},{"x":55.5,"y":240},{"x":55.75,"y":234},{"x":56,"y":240},{"x":56.25,"y":234},{"x":56.5,"y":241},{"x":56.75,"y":236},{"x":57,"y":241},{"x":57.25,"y":235},{"x":57.5,"y":242},{"x":57.75,"y":240},{"x":58,"y":246},{"x":58.2,"y":249},{"x":58.4,"y":243},{"x":58.6,"y":241},{"x":58.8,"y":236},{"x":59,"y":241},{"x":59.25,"y":236},{"x":59.5,"y":243},{"x":59.75,"y":237},{"x":60,"y":242},{"x":60.25,"y":236},{"x":60.5,"y":244},{"x":60.75,"y":238},{"x":61,"y":243},{"x":61.25,"y":238},{"x":61.5,"y":245},{"x":61.75,"y":241},{"x":62,"y":248},{"x":62.25,"y":241},{"x":62.5,"y":245},{"x":62.75,"y":240},{"x":63,"y":247},{"x":63.25,"y":241},{"x":63.5,"y":246},{"x":63.75,"y":242},{"x":64,"y":250},{"x":64.25,"y":243},{"x":64.5,"y":248},{"x":64.75,"y":243},{"x":65,"y":250},{"x":65.25,"y":244},{"x":65.5,"y":249},{"x":65.75,"y":245},{"x":66,"y":252},{"x":66.25,"y":248},{"x":66.5,"y":254},{"x":66.7,"y":256},{"x":66.9,"y":262},{"x":67.1,"y":252},{"x":67.3,"y":254},{"x":67.5,"y":248},{"x":67.75,"y":254},{"x":68,"y":248},{"x":68.25,"y":255},{"x":68.5,"y":250},{"x":68.75,"y":256},{"x":69,"y":251},{"x":69.25,"y":257},{"x":69.5,"y":254},{"x":69.75,"y":260},{"x":70,"y":262}],
"c10":[{"x":15,"y":124},{"x":15.25,"y":128},{"x":15.5,"y":123},{"x":15.75,"y":127},{"x":16,"y":122},{"x":16.25,"y":126},{"x":16.5,"y":123},{"x":16.75,"y":127},{"x":17,"y":123},{"x":17.25,"y":127},{"x":17.5,"y":125},{"x":17.7,"y":130},{"x":17.9,"y":134},{"x":18.2,"y":168},{"x":18.5,"y":132},{"x":18.65,"y":128},{"x":18.8,"y":131},{"x":19,"y":145},{"x":19.2,"y":130},{"x":19.35,"y":125},{"x":19.5,"y":128},{"x":19.75,"y":123},{"x":20,"y":127},{"x":20.25,"y":122},{"x":20.5,"y":125},{"x":20.75,"y":121},{"x":21,"y":126},{"x":21.25,"y":122},{"x":21.5,"y":127},{"x":21.65,"y":131},{"x":21.85,"y":212},{"x":22.1,"y":134},{"x":22.3,"y":126},{"x":22.5,"y":129},{"x":22.75,"y":125},{"x":23,"y":130},{"x":23.25,"y":125},{"x":23.5,"y":128},{"x":23.75,"y":124},{"x":24,"y":129},{"x":24.25,"y":125},{"x":24.5,"y":129},{"x":24.75,"y":126},{"x":25,"y":131},{"x":25.25,"y":129},{"x":25.5,"y":135},{"x":25.75,"y":136},{"x":26,"y":143},{"x":26.3,"y":220},{"x":26.6,"y":140},{"x":26.8,"y":133},{"x":27,"y":134},{"x":27.25,"y":129},{"x":27.5,"y":134},{"x":27.75,"y":135},{"x":28,"y":141},{"x":28.4,"y":215},{"x":28.7,"y":150},{"x":29,"y":155},{"x":29.4,"y":240},{"x":29.7,"y":140},{"x":29.9,"y":132},{"x":30.1,"y":129},{"x":30.3,"y":131},{"x":30.5,"y":126},{"x":30.75,"y":130},{"x":31,"y":126},{"x":31.25,"y":130},{"x":31.5,"y":125},{"x":31.75,"y":129},{"x":32,"y":126},{"x":32.25,"y":130},{"x":32.5,"y":126},{"x":32.75,"y":130},{"x":33,"y":128},{"x":33.25,"y":132},{"x":33.6,"y":135},{"x":33.9,"y":162},{"x":34.2,"y":133},{"x":34.4,"y":128},{"x":34.6,"y":131},{"x":34.8,"y":127},{"x":35,"y":132},{"x":35.25,"y":129},{"x":35.5,"y":134},{"x":35.75,"y":132},{"x":36,"y":138},{"x":36.25,"y":133},{"x":36.5,"y":136},{"x":36.75,"y":131},{"x":37,"y":134},{"x":37.25,"y":130},{"x":37.5,"y":134},{"x":37.75,"y":131},{"x":38,"y":136},{"x":38.2,"y":133},{"x":38.4,"y":143},{"x":38.7,"y":133},{"x":38.9,"y":136},{"x":39.1,"y":131},{"x":39.3,"y":135},{"x":39.5,"y":131},{"x":39.75,"y":135},{"x":40,"y":130},{"x":40.25,"y":134},{"x":40.5,"y":131},{"x":40.75,"y":135},{"x":41,"y":130},{"x":41.25,"y":134},{"x":41.5,"y":132},{"x":41.75,"y":136},{"x":42,"y":132},{"x":42.25,"y":137},{"x":42.5,"y":135},{"x":42.75,"y":139},{"x":43,"y":139},{"x":43.3,"y":148},{"x":43.5,"y":140},{"x":43.7,"y":137},{"x":43.95,"y":142},{"x":44.2,"y":151},{"x":44.5,"y":205},{"x":44.8,"y":148},{"x":45,"y":139},{"x":45.25,"y":136},{"x":45.5,"y":135},{"x":45.75,"y":132},{"x":46,"y":135},{"x":46.25,"y":132},{"x":46.6,"y":142},{"x":46.8,"y":135},{"x":47,"y":134},{"x":47.25,"y":130},{"x":47.5,"y":135},{"x":47.75,"y":131},{"x":48,"y":136},{"x":48.3,"y":134},{"x":48.7,"y":144},{"x":48.9,"y":136},{"x":49.1,"y":134},{"x":49.3,"y":131},{"x":49.5,"y":136},{"x":49.75,"y":131},{"x":50,"y":135},{"x":50.25,"y":132},{"x":50.5,"y":137},{"x":50.75,"y":134},{"x":51,"y":138},{"x":51.25,"y":136},{"x":51.6,"y":145},{"x":51.9,"y":151},{"x":52.2,"y":140},{"x":52.4,"y":133},{"x":52.6,"y":136},{"x":52.8,"y":132},{"x":53,"y":136},{"x":53.25,"y":133},{"x":53.5,"y":138},{"x":53.75,"y":139},{"x":54,"y":146},{"x":54.3,"y":175},{"x":54.6,"y":144},{"x":54.8,"y":137},{"x":55,"y":137},{"x":55.25,"y":133},{"x":55.5,"y":135},{"x":55.75,"y":132},{"x":56,"y":136},{"x":56.25,"y":132},{"x":56.5,"y":135},{"x":56.75,"y":132},{"x":57,"y":137},{"x":57.25,"y":133},{"x":57.5,"y":136},{"x":57.75,"y":136},{"x":58,"y":140},{"x":58.2,"y":141},{"x":58.4,"y":136},{"x":58.6,"y":135},{"x":58.8,"y":131},{"x":59,"y":134},{"x":59.25,"y":130},{"x":59.5,"y":135},{"x":59.75,"y":130},{"x":60,"y":133},{"x":60.25,"y":130},{"x":60.5,"y":134},{"x":60.75,"y":130},{"x":61,"y":133},{"x":61.25,"y":130},{"x":61.5,"y":135},{"x":61.75,"y":132},{"x":62,"y":137},{"x":62.25,"y":132},{"x":62.5,"y":134},{"x":62.75,"y":131},{"x":63,"y":136},{"x":63.25,"y":132},{"x":63.5,"y":135},{"x":63.75,"y":132},{"x":64,"y":137},{"x":64.25,"y":134},{"x":64.5,"y":139},{"x":64.75,"y":134},{"x":65,"y":136},{"x":65.25,"y":133},{"x":65.5,"y":138},{"x":65.75,"y":134},{"x":66,"y":137},{"x":66.25,"y":136},{"x":66.5,"y":139},{"x":66.8,"y":142},{"x":67,"y":137},{"x":67.25,"y":134},{"x":67.5,"y":138},{"x":67.75,"y":134},{"x":68,"y":136},{"x":68.25,"y":133},{"x":68.5,"y":137},{"x":68.75,"y":135},{"x":69,"y":138},{"x":69.25,"y":137},{"x":69.5,"y":144},{"x":69.75,"y":147},{"x":70,"y":154}],
"c4":[{"x":15,"y":7},{"x":15.25,"y":10},{"x":15.5,"y":7},{"x":15.75,"y":11},{"x":16,"y":8},{"x":16.25,"y":11},{"x":16.5,"y":9},{"x":16.75,"y":12},{"x":17,"y":9},{"x":17.25,"y":12},{"x":17.5,"y":11},{"x":17.7,"y":14},{"x":17.9,"y":17},{"x":18.2,"y":30},{"x":18.5,"y":18},{"x":18.65,"y":14},{"x":18.8,"y":16},{"x":19,"y":20},{"x":19.15,"y":16},{"x":19.3,"y":18},{"x":19.5,"y":14},{"x":19.75,"y":17},{"x":20,"y":13},{"x":20.25,"y":16},{"x":20.5,"y":14},{"x":20.75,"y":16},{"x":21,"y":12},{"x":21.25,"y":15},{"x":21.5,"y":15},{"x":21.7,"y":20},{"x":21.9,"y":50},{"x":22.1,"y":22},{"x":22.3,"y":17},{"x":22.5,"y":20},{"x":22.75,"y":17},{"x":23,"y":21},{"x":23.25,"y":18},{"x":23.5,"y":21},{"x":23.75,"y":19},{"x":24,"y":23},{"x":24.25,"y":21},{"x":24.5,"y":25},{"x":24.75,"y":24},{"x":25,"y":29},{"x":25.25,"y":32},{"x":25.5,"y":40},{"x":25.7,"y":48},{"x":25.9,"y":61},{"x":26.1,"y":80},{"x":26.3,"y":100},{"x":26.45,"y":90},{"x":26.6,"y":70},{"x":26.8,"y":52},{"x":27,"y":44},{"x":27.25,"y":38},{"x":27.5,"y":41},{"x":27.75,"y":39},{"x":28,"y":46},{"x":28.2,"y":56},{"x":28.4,"y":80},{"x":28.55,"y":60},{"x":28.7,"y":52},{"x":29,"y":56},{"x":29.2,"y":75},{"x":29.4,"y":110},{"x":29.55,"y":90},{"x":29.7,"y":50},{"x":29.85,"y":40},{"x":30,"y":36},{"x":30.25,"y":32},{"x":30.5,"y":36},{"x":30.75,"y":32},{"x":31,"y":36},{"x":31.25,"y":33},{"x":31.5,"y":36},{"x":31.75,"y":33},{"x":32,"y":37},{"x":32.25,"y":33},{"x":32.5,"y":37},{"x":32.75,"y":34},{"x":33,"y":38},{"x":33.25,"y":36},{"x":33.6,"y":41},{"x":33.9,"y":52},{"x":34.2,"y":39},{"x":34.4,"y":33},{"x":34.6,"y":36},{"x":34.8,"y":33},{"x":35,"y":37},{"x":35.25,"y":35},{"x":35.5,"y":39},{"x":35.75,"y":37},{"x":36,"y":41},{"x":36.25,"y":39},{"x":36.5,"y":44},{"x":36.75,"y":39},{"x":37,"y":40},{"x":37.25,"y":36},{"x":37.5,"y":39},{"x":37.75,"y":35},{"x":38,"y":38},{"x":38.25,"y":37},{"x":38.5,"y":43},{"x":38.65,"y":38},{"x":38.8,"y":35},{"x":39,"y":39},{"x":39.2,"y":35},{"x":39.4,"y":39},{"x":39.6,"y":35},{"x":39.8,"y":39},{"x":40,"y":36},{"x":40.25,"y":39},{"x":40.5,"y":35},{"x":40.75,"y":38},{"x":41,"y":36},{"x":41.25,"y":38},{"x":41.5,"y":34},{"x":41.75,"y":37},{"x":42,"y":40},{"x":42.25,"y":36},{"x":42.5,"y":38},{"x":42.75,"y":37},{"x":43,"y":41},{"x":43.3,"y":47},{"x":43.5,"y":42},{"x":43.7,"y":44},{"x":43.95,"y":45},{"x":44.2,"y":52},{"x":44.5,"y":155},{"x":44.8,"y":56},{"x":44.95,"y":47},{"x":45.2,"y":45},{"x":45.4,"y":41},{"x":45.6,"y":44},{"x":45.8,"y":39},{"x":46,"y":42},{"x":46.25,"y":38},{"x":46.5,"y":40},{"x":46.75,"y":36},{"x":47,"y":38},{"x":47.25,"y":35},{"x":47.5,"y":39},{"x":47.75,"y":35},{"x":48,"y":38},{"x":48.3,"y":36},{"x":48.6,"y":42},{"x":48.8,"y":36},{"x":49,"y":38},{"x":49.25,"y":34},{"x":49.5,"y":39},{"x":49.75,"y":34},{"x":50,"y":37},{"x":50.25,"y":34},{"x":50.5,"y":38},{"x":50.75,"y":35},{"x":51,"y":38},{"x":51.25,"y":36},{"x":51.6,"y":43},{"x":51.75,"y":55},{"x":51.9,"y":95},{"x":52.05,"y":60},{"x":52.2,"y":42},{"x":52.4,"y":35},{"x":52.6,"y":38},{"x":52.8,"y":34},{"x":53,"y":38},{"x":53.25,"y":35},{"x":53.5,"y":38},{"x":53.75,"y":38},{"x":54,"y":45},{"x":54.3,"y":55},{"x":54.5,"y":65},{"x":54.7,"y":47},{"x":54.85,"y":40},{"x":55,"y":38},{"x":55.25,"y":35},{"x":55.5,"y":38},{"x":55.75,"y":35},{"x":56,"y":38},{"x":56.25,"y":35},{"x":56.5,"y":38},{"x":56.75,"y":35},{"x":57,"y":38},{"x":57.25,"y":35},{"x":57.5,"y":38},{"x":57.75,"y":38},{"x":58,"y":41},{"x":58.25,"y":37},{"x":58.5,"y":38},{"x":58.75,"y":34},{"x":59,"y":37},{"x":59.25,"y":34},{"x":59.5,"y":38},{"x":59.75,"y":35},{"x":60,"y":38},{"x":60.25,"y":35},{"x":60.5,"y":38},{"x":60.75,"y":35},{"x":61,"y":37},{"x":61.25,"y":34},{"x":61.5,"y":38},{"x":61.75,"y":36},{"x":62,"y":40},{"x":62.25,"y":36},{"x":62.5,"y":38},{"x":62.75,"y":35},{"x":63,"y":39},{"x":63.25,"y":36},{"x":63.5,"y":39},{"x":63.75,"y":36},{"x":64,"y":40},{"x":64.25,"y":38},{"x":64.5,"y":42},{"x":64.75,"y":38},{"x":65,"y":40},{"x":65.25,"y":37},{"x":65.5,"y":41},{"x":65.75,"y":40},{"x":66,"y":44},{"x":66.25,"y":43},{"x":66.5,"y":47},{"x":66.75,"y":43},{"x":67,"y":44},{"x":67.25,"y":40},{"x":67.5,"y":42},{"x":67.75,"y":39},{"x":68,"y":41},{"x":68.25,"y":38},{"x":68.5,"y":42},{"x":68.75,"y":39},{"x":69,"y":42},{"x":69.25,"y":40},{"x":69.5,"y":43},{"x":69.75,"y":44},{"x":70,"y":47}],
"am":[{"x":17.8,"y":301,"t":"sq"},{"x":19.0,"y":271,"t":"st"},{"x":19.0,"y":248,"t":"sq"},{"x":21.7,"y":301,"t":"sq"},{"x":26.0,"y":322,"t":"sq"},{"x":28.1,"y":340,"t":"sq"},{"x":29.2,"y":378,"t":"sq"},{"x":33.9,"y":281,"t":"sq"},{"x":37.0,"y":328,"t":"di"},{"x":37.0,"y":305,"t":"st"},{"x":38.8,"y":305,"t":"di"},{"x":37.0,"y":283,"t":"pl"},{"x":37.0,"y":262,"t":"ci"},{"x":38.7,"y":268,"t":"sq"},{"x":41.5,"y":261,"t":"tr"},{"x":42.9,"y":268,"t":"sq"},{"x":43.0,"y":311,"t":"pl"},{"x":43.0,"y":286,"t":"ci"},{"x":45.2,"y":268,"t":"st"},{"x":46.8,"y":282,"t":"di"},{"x":48.4,"y":274,"t":"sq"},{"x":50.6,"y":274,"t":"sq"},{"x":54.2,"y":323,"t":"di"},{"x":54.2,"y":296,"t":"sq"},{"x":58.2,"y":275,"t":"ci"},{"x":62.4,"y":263,"t":"tr"},{"x":66.0,"y":296,"t":"di"},{"x":66.0,"y":268,"t":"ci"}],
"bm":[{"x":18.0,"y":269,"t":"sq"},{"x":19.3,"y":229,"t":"st"},{"x":19.3,"y":212,"t":"sq"},{"x":21.7,"y":269,"t":"sq"},{"x":26.4,"y":279,"t":"sq"},{"x":28.2,"y":294,"t":"sq"},{"x":29.6,"y":391,"t":"sq"},{"x":33.9,"y":246,"t":"sq"},{"x":36.8,"y":269,"t":"@"},{"x":36.8,"y":245,"t":"di"},{"x":36.7,"y":222,"t":"st"},{"x":38.5,"y":212,"t":"sq"},{"x":40.1,"y":243,"t":"di"},{"x":40.1,"y":224,"t":"sq"},{"x":41.7,"y":209,"t":"sq"},{"x":43.2,"y":242,"t":"ci"},{"x":43.2,"y":224,"t":"sq"},{"x":44.6,"y":282,"t":"$"},{"x":46.7,"y":223,"t":"di"},{"x":48.6,"y":221,"t":"sq"},{"x":50.6,"y":218,"t":"sq"},{"x":52.0,"y":235,"t":"$"},{"x":54.4,"y":276,"t":"di"},{"x":54.4,"y":256,"t":"sq"},{"x":58.1,"y":219,"t":"ci"},{"x":62.2,"y":219,"t":"tr"},{"x":64.2,"y":216,"t":"st"},{"x":64.3,"y":238,"t":"di"},{"x":67.0,"y":238,"t":"di"},{"x":67.0,"y":218,"t":"ci"}],
"cm":[{"x":18.4,"y":284,"t":"sq"},{"x":19.8,"y":284,"t":"st"},{"x":19.8,"y":263,"t":"sq"},{"x":22.1,"y":332,"t":"sq"},{"x":26.5,"y":360,"t":"©"},{"x":26.5,"y":339,"t":"sq"},{"x":28.6,"y":339,"t":"sq"},{"x":29.5,"y":370,"t":"sq"},{"x":34.2,"y":283,"t":"sq"},{"x":36.9,"y":325,"t":"@"},{"x":36.9,"y":299,"t":"di"},{"x":38.5,"y":290,"t":"di"},{"x":36.9,"y":272,"t":"st"},{"x":38.5,"y":272,"t":"sq"},{"x":43.0,"y":290,"t":"ci"},{"x":43.0,"y":274,"t":"sq"},{"x":44.6,"y":373,"t":"$"},{"x":46.8,"y":263,"t":"di"},{"x":48.6,"y":263,"t":"sq"},{"x":50.5,"y":261,"t":"sq"},{"x":52.0,"y":299,"t":"$"},{"x":54.3,"y":287,"t":"sq"},{"x":58.1,"y":264,"t":"ci"},{"x":61.9,"y":266,"t":"tr"},{"x":64.5,"y":266,"t":"st"},{"x":64.7,"y":287,"t":"di"},{"x":66.8,"y":306,"t":"di"},{"x":66.8,"y":284,"t":"ci"}],
"al":[{"x":15.45,"y":441,"l":"■ Cordierite"},{"x":27.2,"y":441,"l":"○ Al₂O₃"},{"x":34.7,"y":441,"l":"+ NiO"},{"x":41.7,"y":441,"l":"▲ MgO"},{"x":49.3,"y":441,"l":"★ NiAl₂O₄"},{"x":59.2,"y":441,"l":"◆ MgAl₂O₄"}],
"bl":[{"x":15.65,"y":436,"l":"■ Cordierite"},{"x":27.1,"y":436,"l":"○ Al₂O₃"},{"x":34.7,"y":436,"l":"▲ MgO"},{"x":42.7,"y":436,"l":"◆ MgAl₂O₄"},{"x":53.9,"y":436,"l":"★ NiAl₂O₄"},{"x":63.5,"y":436,"l":"@ Mg"},{"x":15.65,"y":409,"l":"$ Ni"}],
"cl":[{"x":15.65,"y":443,"l":"■ Cordierite"},{"x":26.2,"y":443,"l":"○ Al₂O₃"},{"x":33.2,"y":443,"l":"▲ MgO"},{"x":42.8,"y":443,"l":"◆ MgAl₂O₄"},{"x":55.1,"y":443,"l":"★ NiAl₂O₄"},{"x":64.5,"y":443,"l":"@ Mg"},{"x":15.65,"y":420,"l":"$ Ni"},{"x":19.9,"y":420,"l":"© Carbon"}],
"alab":[{"x":70,"y":256,"l":"C-20"},{"x":70,"y":153,"l":"C-10"},{"x":70,"y":38,"l":"C- 4"}],
"blab":[{"x":70,"y":198,"l":"C-20"},{"x":70,"y":103,"l":"C-10"},{"x":70,"y":29,"l":"C- 4"}],
"clab":[{"x":70,"y":253,"l":"C-20"},{"x":70,"y":150,"l":"C-10"},{"x":70,"y":43,"l":"C- 4"}]
},
"vconcat":[
{"hconcat":[
{"width":511,"height":456,
"title":{"text":"(a) Fresh catalyst (after calcination)","dx":-24},
"encoding":{
"x":{"field":"x","type":"quantitative","scale":{"domain":[15,70],"nice":false,"zero":false},"title":"2 Theta (ᵒ)","axis":{"values":[15,17.5,20,22.5,25,27.5,30,32.5,35,37.5,40,42.5,45,47.5,50,52.5,55,57.5,60,62.5,65,67.5,70],"labelExpr":"datum.value % 5 === 0 ? datum.label : ''","tickSize":{"condition":{"test":"datum.value % 5 === 0","value":10},"value":6}}},
"y":{"field":"y","type":"quantitative","scale":{"domain":[0,456],"nice":false,"zero":false},"title":"Intensity, a.u"}},
"layer":[
{"data":{"name":"a20"},"mark":{"type":"line","color":"#c42126","strokeWidth":1.8}},
{"data":{"name":"a10"},"mark":{"type":"line","color":"#2424b8","strokeWidth":1.5}},
{"data":{"name":"a4"},"mark":{"type":"line","color":"#111111","strokeWidth":1.4}},
{"data":{"name":"am"},"transform":[{"filter":"datum.t==='sq'"}],"mark":{"type":"point","shape":"square","filled":true,"size":110,"color":"#111","opacity":1}},
{"data":{"name":"am"},"transform":[{"filter":"datum.t==='di'"}],"mark":{"type":"point","shape":"diamond","filled":true,"size":150,"color":"#111","opacity":1}},
{"data":{"name":"am"},"transform":[{"filter":"datum.t==='tr'"}],"mark":{"type":"point","shape":"triangle-up","filled":true,"size":160,"color":"#111","opacity":1}},
{"data":{"name":"am"},"transform":[{"filter":"datum.t==='ci'"}],"mark":{"type":"point","shape":"circle","filled":false,"size":85,"strokeWidth":2.6,"color":"#111","opacity":1}},
{"data":{"name":"am"},"transform":[{"filter":"datum.t==='pl'"}],"mark":{"type":"point","shape":"M-1,-0.17H1V0.17H-1Z M-0.17,-1H0.17V1H-0.17Z","filled":true,"size":160,"color":"#111","opacity":1}},
{"data":{"name":"am"},"transform":[{"filter":"datum.t==='st'"}],"mark":{"type":"point","shape":"M0,-1L0.176,-0.243L0.951,-0.309L0.285,0.093L0.588,0.809L0,0.3L-0.588,0.809L-0.285,0.093L-0.951,-0.309L-0.176,-0.243Z","filled":true,"size":190,"color":"#333","opacity":1}},
{"data":{"name":"al"},"mark":{"type":"text","align":"left","baseline":"middle","fontSize":17,"color":"#222"},"encoding":{"text":{"field":"l"}}},
{"data":{"name":"alab"},"mark":{"type":"text","align":"left","baseline":"middle","dx":10,"fontSize":22,"fontWeight":"bold","color":"#111"},"encoding":{"text":{"field":"l"}}}
]},
{"width":507,"height":456,
"title":{"text":"(b) Reduced catalyst at 800 ᵒC for 13 h","dx":-25},
"encoding":{
"x":{"field":"x","type":"quantitative","scale":{"domain":[15,70],"nice":false,"zero":false},"title":"2 Theta (ᵒ)","axis":{"values":[15,17.5,20,22.5,25,27.5,30,32.5,35,37.5,40,42.5,45,47.5,50,52.5,55,57.5,60,62.5,65,67.5,70],"labelExpr":"datum.value % 5 === 0 ? datum.label : ''","tickSize":{"condition":{"test":"datum.value % 5 === 0","value":10},"value":6}}},
"y":{"field":"y","type":"quantitative","scale":{"domain":[0,456],"nice":false,"zero":false},"title":"Intensity, a.u"}},
"layer":[
{"data":{"name":"b20"},"mark":{"type":"line","color":"#c42126","strokeWidth":1.8}},
{"data":{"name":"b10"},"mark":{"type":"line","color":"#2424b8","strokeWidth":1.5}},
{"data":{"name":"b4"},"mark":{"type":"line","color":"#111111","strokeWidth":1.4}},
{"data":{"name":"bm"},"transform":[{"filter":"datum.t==='sq'"}],"mark":{"type":"point","shape":"square","filled":true,"size":110,"color":"#111","opacity":1}},
{"data":{"name":"bm"},"transform":[{"filter":"datum.t==='di'"}],"mark":{"type":"point","shape":"diamond","filled":true,"size":150,"color":"#111","opacity":1}},
{"data":{"name":"bm"},"transform":[{"filter":"datum.t==='tr'"}],"mark":{"type":"point","shape":"triangle-up","filled":true,"size":160,"color":"#111","opacity":1}},
{"data":{"name":"bm"},"transform":[{"filter":"datum.t==='ci'"}],"mark":{"type":"point","shape":"circle","filled":false,"size":85,"strokeWidth":2.6,"color":"#111","opacity":1}},
{"data":{"name":"bm"},"transform":[{"filter":"datum.t==='st'"}],"mark":{"type":"point","shape":"M0,-1L0.176,-0.243L0.951,-0.309L0.285,0.093L0.588,0.809L0,0.3L-0.588,0.809L-0.285,0.093L-0.951,-0.309L-0.176,-0.243Z","filled":true,"size":190,"color":"#333","opacity":1}},
{"data":{"name":"bm"},"transform":[{"filter":"indexof(['$','@','©'],datum.t)>=0"}],"mark":{"type":"text","fontSize":18,"color":"#555","baseline":"middle"},"encoding":{"text":{"field":"t"}}},
{"data":{"name":"bl"},"mark":{"type":"text","align":"left","baseline":"middle","fontSize":17,"color":"#222"},"encoding":{"text":{"field":"l"}}},
{"data":{"name":"blab"},"mark":{"type":"text","align":"left","baseline":"middle","dx":10,"fontSize":22,"fontWeight":"bold","color":"#111"},"encoding":{"text":{"field":"l"}}}
]}
],"spacing":25},
{"hconcat":[
{"width":256,"height":10,"view":{"stroke":null},"data":{"values":[]},"mark":"point"},
{"width":515,"height":458,
"title":{"text":"(c) 1 h spent catalyst at 800 ᵒC for a feed ratio of 1.5","dx":47},
"encoding":{
"x":{"field":"x","type":"quantitative","scale":{"domain":[15,70],"nice":false,"zero":false},"title":"2 Theta (ᵒ)","axis":{"values":[15,17.5,20,22.5,25,27.5,30,32.5,35,37.5,40,42.5,45,47.5,50,52.5,55,57.5,60,62.5,65,67.5,70],"labelExpr":"datum.value % 5 === 0 ? datum.label : ''","tickSize":{"condition":{"test":"datum.value % 5 === 0","value":10},"value":6}}},
"y":{"field":"y","type":"quantitative","scale":{"domain":[0,458],"nice":false,"zero":false},"title":"Intensity, a.u"}},
"layer":[
{"data":{"name":"c20"},"mark":{"type":"line","color":"#c42126","strokeWidth":1.8}},
{"data":{"name":"c10"},"mark":{"type":"line","color":"#2424b8","strokeWidth":1.5}},
{"data":{"name":"c4"},"mark":{"type":"line","color":"#111111","strokeWidth":1.4}},
{"data":{"name":"cm"},"transform":[{"filter":"datum.t==='sq'"}],"mark":{"type":"point","shape":"square","filled":true,"size":110,"color":"#111","opacity":1}},
{"data":{"name":"cm"},"transform":[{"filter":"datum.t==='di'"}],"mark":{"type":"point","shape":"diamond","filled":true,"size":150,"color":"#111","opacity":1}},
{"data":{"name":"cm"},"transform":[{"filter":"datum.t==='tr'"}],"mark":{"type":"point","shape":"triangle-up","filled":true,"size":160,"color":"#111","opacity":1}},
{"data":{"name":"cm"},"transform":[{"filter":"datum.t==='ci'"}],"mark":{"type":"point","shape":"circle","filled":false,"size":85,"strokeWidth":2.6,"color":"#111","opacity":1}},
{"data":{"name":"cm"},"transform":[{"filter":"datum.t==='st'"}],"mark":{"type":"point","shape":"M0,-1L0.176,-0.243L0.951,-0.309L0.285,0.093L0.588,0.809L0,0.3L-0.588,0.809L-0.285,0.093L-0.951,-0.309L-0.176,-0.243Z","filled":true,"size":190,"color":"#333","opacity":1}},
{"data":{"name":"cm"},"transform":[{"filter":"indexof(['$','@','©'],datum.t)>=0"}],"mark":{"type":"text","fontSize":18,"color":"#555","baseline":"middle"},"encoding":{"text":{"field":"t"}}},
{"data":{"name":"cl"},"mark":{"type":"text","align":"left","baseline":"middle","fontSize":17,"color":"#222"},"encoding":{"text":{"field":"l"}}},
{"data":{"name":"clab"},"mark":{"type":"text","align":"left","baseline":"middle","dx":10,"fontSize":22,"fontWeight":"bold","color":"#111"},"encoding":{"text":{"field":"l"}}}
]}
],"spacing":20}
],
"spacing":55
}
